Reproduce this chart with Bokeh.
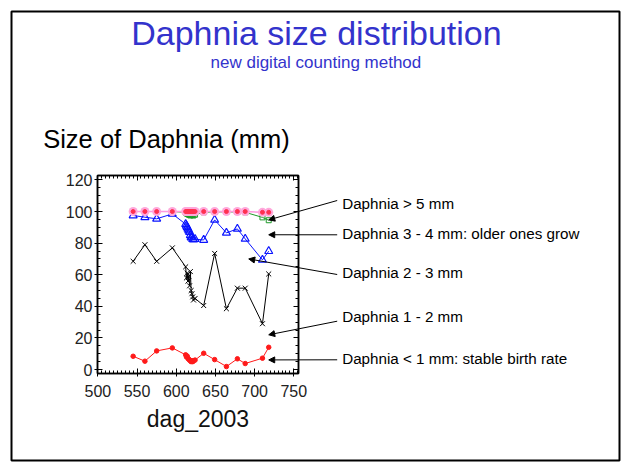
from bokeh.plotting import figure
from bokeh.models import (Label, Arrow, NormalHead, BoxAnnotation, LinearAxis, Range1d,
                          ColumnDataSource, SingleIntervalTicker, CustomJSTickFormatter)
from bokeh.embed import file_html
from bokeh.resources import INLINE

# ---------------- data ----------------
days = [545, 560, 575, 595, 612, 613, 614, 615, 616, 617, 618, 619, 620, 621, 622, 624,
        635, 649, 664, 678, 688, 710, 718]
size_lt1 = [8.4, 5.3, 11.8, 13.7, 9.3, 8.0, 8.5, 7.0, 6.5, 6.0, 5.5, 5.0, 5.5, 5.0, 5.5, 6.0,
            10.3, 6.3, 1.9, 6.8, 3.8, 7.2, 14.1]
size_1_2 = [68.5, 79.0, 68.5, 77.0, 65.0, 58.0, 61.0, 56.0, 59.0, 53.0, 62.0, 50.0, 48.0, 46.0, 44.0, 45.0,
            40.5, 73.5, 38.5, 51.5, 51.5, 29.0, 60.5]
size_2_3 = [97.5, 96.4, 95.4, 98.5, 92.0, 91.0, 90.0, 89.0, 88.0, 87.0, 85.0, 83.5, 84.0, 82.5, 82.3, 82.5,
            82.0, 94.7, 86.5, 89.0, 82.7, 69.4, 74.9]
size_3_4 = [100, 100, 100, 100, 99.5, 99.0, 98.5, 98.5, 98.0, 98.0, 97.5, 97.8, 98.0, 97.7, 97.5, 98.0,
            99.5, 99.8, 99.8, 99.7, 99.5, 96.3, 94.5]
size_gt5 = [100] * 21 + [99.5, 99.5]

x_ticks_interval = 50
y_ticks_interval = 20

title_text = "Daphnia size distribution"
subtitle_text = "new digital counting method"
slide_heading = "Size of Daphnia (mm)"
x_label = "dag_2003"

notes = ["Daphnia > 5 mm",
         "Daphnia 3 - 4 mm: older ones grow",
         "Daphnia 2 - 3 mm",
         "Daphnia 1 - 2 mm",
         "Daphnia < 1 mm: stable birth rate"]
# arrow targets (chart data units)
note_target_x = [718, 718, 692.5, 718, 718]
note_target_y = [94.7, 85.3, 70.0, 22.0, 6.1]
# label anchors / arrow tails (page px, from top)
note_text_y = [203, 233.3, 272.3, 315.7, 358.3]
note_tail_y = [200, 234.3, 274, 320.7, 359.3]

FONT = "Liberation Sans"
W, H = 624, 465
X0, X1 = 499.5, 756.0
Y0, Y1 = -2.5, 122.8
BL, BR, BT, BB = 97, 326, 175, 92   # borders around the chart frame

src = ColumnDataSource(dict(x=days, a=size_lt1, b=size_1_2, c=size_2_3, d=size_3_4, e=size_gt5))

p = figure(width=W, height=H, output_backend="svg", toolbar_location=None,
           x_range=Range1d(X0, X1), y_range=Range1d(Y0, Y1),
           min_border_left=BL, min_border_right=BR, min_border_top=BT, min_border_bottom=BB,
           background_fill_color="white", border_fill_color="white")
p.grid.visible = False
p.outline_line_color = "black"
p.outline_line_width = 1.5

xt = SingleIntervalTicker(interval=x_ticks_interval, num_minor_ticks=10)
yt = SingleIntervalTicker(interval=y_ticks_interval, num_minor_ticks=4)
blank = CustomJSTickFormatter(code="return ''")

def style_axis(ax, labels=True):
    ax.axis_line_color = "black"
    ax.axis_line_width = 1.5
    ax.major_tick_line_color = "black"
    ax.minor_tick_line_color = "black"
    ax.major_tick_in = 5
    ax.major_tick_out = 3
    ax.minor_tick_in = 3
    ax.minor_tick_out = 0
    ax.major_label_text_font = FONT
    ax.major_label_text_font_size = "16px"
    ax.major_label_text_color = "#222222"
    if not labels:
        ax.major_tick_out = 0
        ax.formatter = blank

p.xaxis.ticker = xt
p.yaxis.ticker = yt
style_axis(p.xaxis[0])
style_axis(p.yaxis[0])
p.xaxis.major_label_standoff = 8
p.yaxis.major_label_standoff = 2
p.xaxis.axis_label = x_label
p.xaxis.axis_label_text_font = FONT
p.xaxis.axis_label_text_font_size = "23px"
p.xaxis.axis_label_text_font_style = "normal"
p.xaxis.axis_label_text_color = "#111111"
p.xaxis.axis_label_standoff = 6

rax = LinearAxis(ticker=yt)
style_axis(rax, labels=False)
p.add_layout(rax, "right")
tax = LinearAxis(ticker=xt)
style_axis(tax, labels=False)
p.add_layout(tax, "above")

# series (drawn bottom to top)
p.line("x", "a", source=src, line_color="#ff1a1a", line_width=1)
p.scatter("x", "a", source=src, marker="circle", size=4.5, fill_color="#ff1a1a", line_color="#ff1a1a")

p.line("x", "b", source=src, line_color="black", line_width=1)
p.scatter("x", "b", source=src, marker="x", size=7, line_color="black", line_width=1)

p.line("x", "c", source=src, line_color="#0a14ff", line_width=1)
p.scatter("x", "c", source=src, marker="triangle", size=8, fill_color=None, line_color="#0a14ff", line_width=1.2)

p.line("x", "d", source=src, line_color="#1f9a2a", line_width=1)
p.scatter("x", "d", source=src, marker="square", size=5, fill_color=None, line_color="#1f9a2a")

p.line("x", "e", source=src, line_color="#ff99e0", line_width=1.5)
p.scatter("x", "e", source=src, marker="circle", size=9, fill_color="#ffa8dc", line_color=None)
p.scatter("x", "e", source=src, marker="circle", size=4, fill_color="#ff3050", line_color="#ff3050")

# ------------- transparent overlay (separate root) for slide texts, arrows and border -------------
o = figure(width=W, height=H, output_backend="svg", toolbar_location=None,
           x_range=Range1d(0, W), y_range=Range1d(H, 0),
           x_axis_type=None, y_axis_type=None, min_border=0,
           background_fill_color=None, border_fill_color=None, outline_line_color=None,
           margin=(-H, 0, 0, 0))
o.grid.visible = False

def to_px_x(v):
    return BL + (v - X0) / (X1 - X0) * (W - BL - BR)

def to_px_y(v):
    return (H - BB) - (v - Y0) / (Y1 - Y0) * (H - BT - BB)

o.add_layout(BoxAnnotation(left=11, right=619, top=11, bottom=460,
                           fill_color=None, line_color="black", line_alpha=1.0, line_width=2))

o.add_layout(Label(x=315.9, y=32.5, text=title_text,
                   text_font=FONT, text_font_size="34px", text_color="#3333cc",
                   text_align="center", text_baseline="alphabetic"))
o.add_layout(Label(x=315.4, y=61.5, text=subtitle_text,
                   text_font=FONT, text_font_size="17px", text_color="#3333cc",
                   text_align="center", text_baseline="alphabetic"))
o.add_layout(Label(x=42.7, y=138.8, text=slide_heading,
                   text_font=FONT, text_font_size="25.5px", text_color="black",
                   text_align="left", text_baseline="alphabetic"))

for t, ty, tail, tx, txy in zip(notes, note_text_y, note_tail_y, note_target_x, note_target_y):
    o.add_layout(Label(x=341.7, y=ty, text=t,
                       text_font=FONT, text_font_size="15.2px", text_color="black",
                       text_align="left", text_baseline="alphabetic"))
    o.add_layout(Arrow(x_start=336.7, y_start=tail, x_end=to_px_x(tx), y_end=to_px_y(txy),
                       line_color="black", line_width=1,
                       end=NormalHead(size=6, fill_color="black", line_color="black", line_width=1)))

open("out.html", "w").write(file_html([p, o], INLINE))
